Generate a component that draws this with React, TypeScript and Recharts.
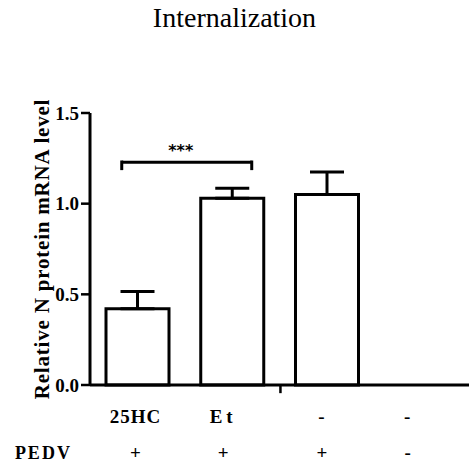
import React from "react";
import {
  Bar,
  BarChart,
  ErrorBar,
  Label,
  ReferenceLine,
  XAxis,
  YAxis,
} from "recharts";

// treatment row and PEDV row under the x axis
const treatments = ["25HC", "Et", "-", "-"];
const pedv = ["+", "+", "+", "-"];
const meanValues = [0.42, 1.03, 1.05, 0];
const sdValues = [0.095, 0.055, 0.125, 0];
const yTicks = [0.0, 0.5, 1.0, 1.5];

const FONT = "Liberation Serif, Times New Roman, serif";

// the figure's labels sit a bit left of the bar centres
const LABEL_NUDGE = [-2, -9, -5, -14];

const data = treatments.map((t, i) => ({
  name: t + "_" + i,
  treatment: t,
  pedv: pedv[i],
  value: meanValues[i],
  err: [0, sdValues[i]],
}));

const TwoRowTick = (props: any) => {
  const { x, y, index } = props;
  const row = data[index];
  if (!row) return null;
  const cx = x + (LABEL_NUDGE[index] ?? 0);
  return (
    <g>
      <text
        x={cx}
        y={y + 30}
        textAnchor="middle"
        fontFamily={FONT}
        fontWeight="bold"
        fontSize={19}
        letterSpacing={index === 1 ? 4 : 1}
        fill="#000"
      >
        {row.treatment}
      </text>
      <text
        x={cx}
        y={y + 66}
        textAnchor="middle"
        fontFamily={FONT}
        fontWeight="bold"
        fontSize={19}
        fill="#000"
      >
        {row.pedv}
      </text>
      {index === 0 && (
        <text
          x={x - 94}
          y={y + 66}
          textAnchor="middle"
          fontFamily={FONT}
          fontWeight="bold"
          fontSize={18}
          letterSpacing={2}
          fill="#000"
        >
          PEDV
        </text>
      )}
    </g>
  );
};

export default function App() {
  return (
    <div
      style={{
        position: "absolute",
        left: 0,
        top: 0,
        width: 469,
        height: 469,
        background: "#fff",
      }}
    >
      <div
        style={{
          position: "absolute",
          top: 2,
          left: 0,
          width: 469,
          textAlign: "center",
          fontFamily: FONT,
          fontSize: 28,
          lineHeight: "32px",
          color: "#000",
        }}
      >
        Internalization
      </div>
      <BarChart
        width={469}
        height={469}
        data={data}
        margin={{ top: 113, right: 0, left: 0, bottom: 24 }}
        barCategoryGap={0}
      >
        <XAxis
          dataKey="name"
          height={60}
          axisLine={{ stroke: "#000", strokeWidth: 3 }}
          tickLine={false}
          tick={<TwoRowTick />}
          interval={0}
        />
        <XAxis
          xAxisId="num"
          type="number"
          dataKey="value"
          domain={[0, 4]}
          hide
          allowDataOverflow
        />
        <YAxis
          width={90}
          domain={[0, 1.5]}
          ticks={yTicks}
          tickFormatter={(v) => v.toFixed(1)}
          axisLine={{ stroke: "#000", strokeWidth: 3 }}
          tickLine={{ stroke: "#000", strokeWidth: 2.5 }}
          tickSize={9}
          tick={{
            fontFamily: FONT,
            fontWeight: "bold",
            fontSize: 19,
            fill: "#000",
          }}
        >
          <Label
            value="Relative N protein mRNA level"
            angle={-90}
            position="center"
            dx={-3}
            style={{
              fontFamily: FONT,
              fontWeight: "bold",
              fontSize: 21,
              letterSpacing: 0.8,
              fill: "#000",
            }}
          />
        </YAxis>
        <Bar
          dataKey="value"
          barSize={63}
          fill="#fff"
          stroke="#000"
          strokeWidth={3}
          isAnimationActive={false}
        >
          <ErrorBar
            dataKey="err"
            width={17}
            stroke="#000"
            strokeWidth={3}
            direction="y"
            isAnimationActive={false}
          />
        </Bar>
        {/* significance bracket */}
        <ReferenceLine
          xAxisId="num"
          segment={[
            { x: 0.335, y: 1.228 },
            { x: 1.707, y: 1.228 },
          ]}
          stroke="#000"
          strokeWidth={3}
          ifOverflow="visible"
          label={{
            value: "***",
            position: "top",
            offset: 6,
            dx: -6,
            fill: "#000",
            fontSize: 16,
            fontWeight: "bold",
            fontFamily: "DejaVu Sans, sans-serif",
          }}
        />
        <ReferenceLine
          xAxisId="num"
          segment={[
            { x: 0.335, y: 1.238 },
            { x: 0.335, y: 1.185 },
          ]}
          stroke="#000"
          strokeWidth={3}
          ifOverflow="visible"
        />
        <ReferenceLine
          xAxisId="num"
          segment={[
            { x: 1.707, y: 1.238 },
            { x: 1.707, y: 1.185 },
          ]}
          stroke="#000"
          strokeWidth={3}
          ifOverflow="visible"
        />
        {/* small axis break tick */}
        <ReferenceLine
          xAxisId="num"
          segment={[
            { x: 2.01, y: 0 },
            { x: 2.01, y: -0.045 },
          ]}
          stroke="#000"
          strokeWidth={2.5}
          ifOverflow="visible"
        />
      </BarChart>
    </div>
  );
}
